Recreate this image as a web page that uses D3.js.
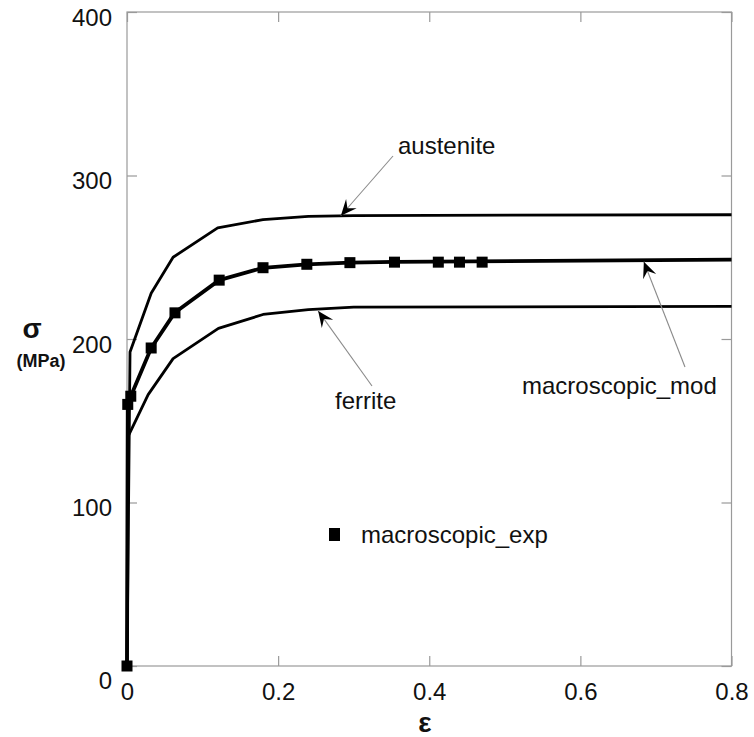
<!DOCTYPE html>
<html>
<head>
<meta charset="utf-8">
<script src="https://cdn.jsdelivr.net/npm/d3@7"></script>
<style>
  html, body { margin: 0; padding: 0; background: #fff; }
  svg { display: block; font-family: Arial, "Liberation Sans", sans-serif; }
</style>
</head>
<body>
<svg id="chart" width="754" height="737"></svg>
<script>
// ---- data ----
const xTicks = [0, 0.2, 0.4, 0.6, 0.8];
const yTicks = [0, 100, 200, 300, 400];

const austeniteStrain = [0, 0.004, 0.032, 0.061, 0.120, 0.180, 0.240, 0.300, 0.800];
const austeniteStress = [0, 192, 228, 250, 268, 273, 275, 275.5, 276];

const ferriteStrain = [0, 0.001, 0.028, 0.061, 0.121, 0.180, 0.240, 0.300, 0.800];
const ferriteStress = [0, 140, 166, 188, 206.5, 215, 218, 219.5, 220];

const modStrain = [0, 0.001, 0.005, 0.032, 0.063, 0.122, 0.180, 0.238, 0.295, 0.354, 0.800];
const modStress = [0, 160, 165, 194.5, 216, 236, 243.5, 245.7, 246.7, 247.2, 248.5];

const expStrain = [0, 0.001, 0.005, 0.032, 0.0635, 0.122, 0.180, 0.238, 0.295, 0.354, 0.412, 0.440, 0.470];
const expStress = [0, 160, 165, 194.5, 216, 236, 243.6, 245.7, 246.7, 247, 247, 247, 247];

// ---- layout ----
const svg = d3.select("#chart");
const x = d3.scaleLinear().domain([0, 0.8]).range([127, 731.5]);
const y = d3.scaleLinear().domain([0, 400]).range([666, 12]);
const frame = "#9a9a9a";
const fontSize = 24;

// arrowhead marker
const defs = svg.append("defs");
defs.append("marker")
  .attr("id", "arrow")
  .attr("viewBox", "-17 -8 19 16")
  .attr("refX", 0).attr("refY", 0)
  .attr("markerWidth", 19).attr("markerHeight", 16)
  .attr("markerUnits", "userSpaceOnUse")
  .attr("orient", "auto")
  .append("path")
  .attr("d", "M0,0 L-16,-7 L-10,0 L-16,7 Z")
  .attr("fill", "#000");

// frame
svg.append("rect")
  .attr("x", x(0)).attr("y", y(400))
  .attr("width", x(0.8) - x(0)).attr("height", y(0) - y(400))
  .attr("fill", "none").attr("stroke", frame).attr("stroke-width", 1.2);

// axes with inward ticks
const gx = svg.append("g").attr("transform", `translate(0,${y(0)})`)
  .call(d3.axisBottom(x).tickValues(xTicks).tickSize(-10).tickPadding(14)
    .tickFormat(d => d === 0 ? "0" : d3.format(".1f")(d)));
const gxTop = svg.append("g").attr("transform", `translate(0,${y(400)})`)
  .call(d3.axisTop(x).tickValues(xTicks).tickSize(-10).tickFormat(""));
const gy = svg.append("g").attr("transform", `translate(${x(0)},0)`)
  .call(d3.axisLeft(y).tickValues(yTicks).tickSize(-10).tickPadding(15)
    .tickFormat(d3.format("d")));
const gyR = svg.append("g").attr("transform", `translate(${x(0.8)},0)`)
  .call(d3.axisRight(y).tickValues(yTicks).tickSize(-10).tickFormat(""));

[gx, gxTop, gy, gyR].forEach(g => {
  g.select(".domain").remove();
  g.selectAll(".tick line").attr("stroke", frame).attr("stroke-width", 1.2);
  g.selectAll("text").attr("font-size", fontSize).attr("fill", "#111")
    .attr("font-family", "Arial, 'Liberation Sans', sans-serif");
});
gx.selectAll("text").attr("dy", "0.71em").attr("y", 17);
gy.selectAll("text").attr("dy", d => d === 0 ? "0.92em" : "0.56em");

// lines
const line = d3.line().x(d => x(d[0])).y(d => y(d[1]));
const zip = (a, b) => a.map((v, i) => [v, b[i]]);

svg.append("path").datum(zip(austeniteStrain, austeniteStress))
  .attr("d", line).attr("fill", "none").attr("stroke", "#000").attr("stroke-width", 2.8)
  .attr("stroke-linejoin", "round");
svg.append("path").datum(zip(ferriteStrain, ferriteStress))
  .attr("d", line).attr("fill", "none").attr("stroke", "#000").attr("stroke-width", 2.8)
  .attr("stroke-linejoin", "round");
svg.append("path").datum(zip(modStrain, modStress))
  .attr("d", line).attr("fill", "none").attr("stroke", "#000").attr("stroke-width", 3.8)
  .attr("stroke-linejoin", "round");

// experimental markers
const ms = 11;
svg.append("g").selectAll("rect").data(zip(expStrain, expStress)).join("rect")
  .attr("x", d => x(d[0]) - ms / 2).attr("y", d => y(d[1]) - ms / 2)
  .attr("width", ms).attr("height", ms).attr("fill", "#000");

// legend
svg.append("rect").attr("x", 329).attr("y", 528).attr("width", 11).attr("height", 13).attr("fill", "#000");
svg.append("text").attr("x", 361).attr("y", 543).attr("font-size", fontSize).attr("fill", "#111")
  .text("macroscopic_exp");

// annotations
function annotate(label, tx, ty, x1, y1, x2, y2) {
  svg.append("line").attr("x1", x1).attr("y1", y1).attr("x2", x2).attr("y2", y2)
    .attr("stroke", "#8a8a8a").attr("stroke-width", 1.1).attr("marker-end", "url(#arrow)");
  svg.append("text").attr("x", tx).attr("y", ty).attr("font-size", fontSize).attr("fill", "#111").text(label);
}
annotate("austenite", 398, 154, 393, 156, x(0.283), y(276) + 1);
annotate("ferrite", 335, 409, 372, 386, x(0.253), y(219) + 3);
annotate("macroscopic_mod", 522, 394, 685, 367, x(0.684), y(248.5) + 2);

// axis titles
svg.append("text").attr("x", 32).attr("y", 338).attr("text-anchor", "middle")
  .attr("font-size", 28).attr("font-weight", "bold").attr("fill", "#111").text("σ");
svg.append("text").attr("x", 41).attr("y", 367).attr("text-anchor", "middle")
  .attr("font-size", 18).attr("font-weight", "bold").attr("fill", "#111").text("(MPa)");
svg.append("text").attr("x", 425).attr("y", 732).attr("text-anchor", "middle")
  .attr("font-size", 28).attr("font-weight", "bold").attr("fill", "#111").text("ε");
</script>
</body>
</html>
